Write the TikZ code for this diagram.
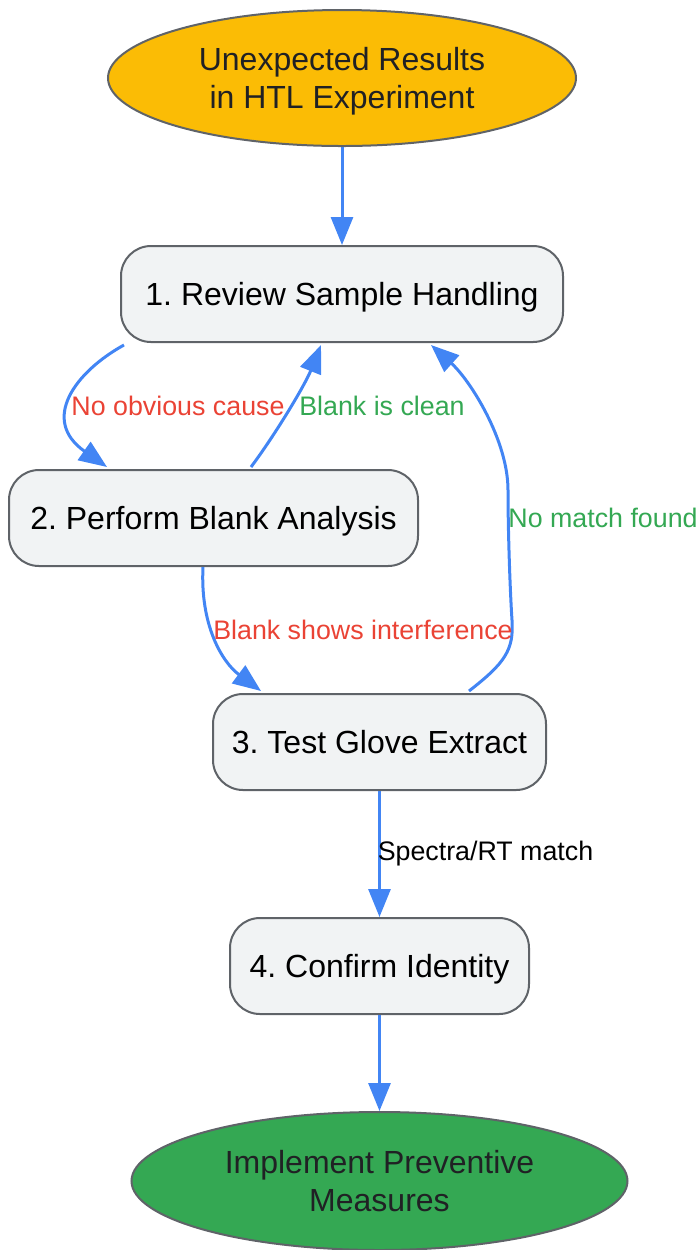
\documentclass[tikz,border=0pt]{standalone}
\usepackage{fontspec}
\setmainfont{Liberation Sans}
\usetikzlibrary{shapes.geometric,arrows.meta,calc}
\definecolor{boxfill}{HTML}{F1F3F4}
\definecolor{boxline}{HTML}{5F6368}
\definecolor{arrowblue}{HTML}{4285F4}
\definecolor{lblred}{HTML}{EA4335}
\definecolor{lblgreen}{HTML}{34A853}
\definecolor{startyellow}{HTML}{FBBC05}
\definecolor{endgreen}{HTML}{34A853}
\definecolor{darktext}{HTML}{202124}
\begin{document}
\frenchspacing
\begin{tikzpicture}[x=0.5pt,y=-0.5pt,
  stepbox/.style={draw=boxline, fill=boxfill, line width=1pt, rounded corners=15pt,
    inner sep=0pt, minimum height=48pt, text height=11.5pt, text depth=0pt,
    font=\fontsize{16}{19}\selectfont, text=black},
  term/.style={ellipse, draw=boxline, line width=1pt, inner sep=0pt, align=center,
    text depth=0pt, font=\fontsize{16}{19}\selectfont, text=darktext},
  flow/.style={draw=arrowblue, line width=1.5pt, -{Triangle[length=14pt,width=11pt]}},
  lbl/.style={font=\fontsize{13.4}{16}\selectfont, inner sep=0pt}
]
\useasboundingbox (0,0) rectangle (699,1250);

\node[term, fill=startyellow, minimum width=234pt, minimum height=68pt] (start) at (342,78)
  {Unexpected Results\\in HTL Experiment};
\node[stepbox, minimum width=221pt] (b1) at (342,294) {1. Review Sample Handling};
\node[stepbox, minimum width=204.5pt] (b2) at (213.5,518) {2. Perform Blank Analysis};
\node[stepbox, minimum width=166.5pt] (b3) at (379.5,742) {3. Test Glove Extract};
\node[stepbox, minimum width=149.5pt] (b4) at (379.5,966) {4. Confirm Identity};
\node[term, fill=endgreen, minimum width=248pt, minimum height=69pt] (end) at (379.5,1181)
  {Implement Preventive\\Measures};

% start -> 1
\draw[flow] (start.south) -- (b1.north);
% 1 -> 2
\draw[flow] ($(b1.south west)+(4,2)$) .. controls (75,372) and (40,420) .. ($(b2.north west)+(99,-2)$);
% 2 -> 1
\draw[flow] ($(b2.north west)+(243,-2)$) .. controls (275,435) and (305,385) .. ($(b1.south west)+(201,2)$);
% 2 -> 3
\draw[flow] ($(b2.south west)+(195,0)$) .. controls (200,625) and (222,662) .. ($(b3.north west)+(49,-2)$);
% 3 -> 1
\draw[flow] ($(b3.north west)+(257,-2)$) .. controls (505,663) and (514,650) .. (512,620)
  .. controls (510,590) and (508,530) .. (508,490)
  .. controls (508,440) and (470,380) .. ($(b1.south west)+(311,2)$);
% 3 -> 4
\draw[flow] (b3.south) -- (b4.north);
% 4 -> end
\draw[flow] (b4.south) -- (end.north);

% labels
\node[lbl, text=lblred] (l1) at (178,406) {No obvious cause};
\node[lbl, text=lblgreen] (l2) at (382,406) {Blank is clean};
\node[lbl, text=lblred] (l3) at (363,630) {Blank shows interference};
\node[lbl, text=lblgreen] (l4) at (603,518) {No match found};
\node[lbl, text=black] (l5) at (485.5,854) {Spectra/RT match};
\end{tikzpicture}
\end{document}
